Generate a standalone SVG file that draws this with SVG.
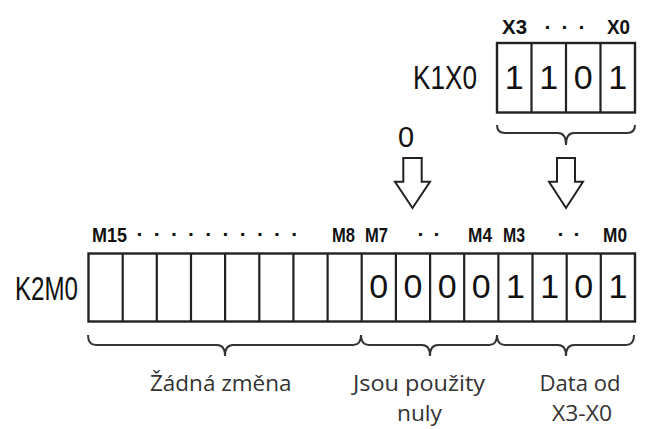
<svg xmlns="http://www.w3.org/2000/svg" width="645" height="429" viewBox="0 0 645 429">
<style>
.box{fill:#fff;stroke:#222;stroke-width:2.4}
.div{stroke:#222;stroke-width:2.2}
.g{font-family:"Liberation Sans",Arial,sans-serif;fill:#111}
.big{font-size:33px}
.dig{font-size:34px;text-anchor:middle}
.sm{font-size:21px;font-weight:bold}
.dot{font-size:21px;text-anchor:middle;font-weight:bold}
.cap{font-family:"Open Sans","Noto Sans",sans-serif;font-size:22px;fill:#333}
.brace{fill:none;stroke:#333;stroke-width:2}
.arrow{fill:#fff;stroke:#222;stroke-width:2;stroke-linejoin:miter}
</style>
<rect width="645" height="429" fill="#fff"/>

<g id="source-register">
  <text class="g big" x="413" y="89" textLength="64" lengthAdjust="spacingAndGlyphs">K1X0</text>
  <text class="g sm" x="502" y="33.5" textLength="25" lengthAdjust="spacingAndGlyphs">X3</text>
  <text class="g dot" x="548 565 582" y="33.5">···</text>
  <text class="g sm" x="607" y="33.5" textLength="23" lengthAdjust="spacingAndGlyphs">X0</text>
  <rect class="box" x="497" y="43" width="138" height="69.5"/>
  <path class="div" d="M531.5,43V112.5M566,43V112.5M600.5,43V112.5"/>
  <text class="g dig" x="514.25 548.75 583.25 617.75" y="89">1101</text>
</g>

<g id="zero-label">
  <text class="g" x="406" y="146.5" font-size="29" text-anchor="middle">0</text>
</g>

<g id="dest-register">
  <text class="g big" x="15" y="300" textLength="63" lengthAdjust="spacingAndGlyphs">K2M0</text>
  <text class="g sm" x="92" y="241.5" textLength="35" lengthAdjust="spacingAndGlyphs">M15</text>
  <text class="g dot" x="140 157.2 174.4 191.6 208.8 226 243.2 260.4 277.6 294.8" y="241">··········</text>
  <text class="g sm" x="332" y="241.5" textLength="23" lengthAdjust="spacingAndGlyphs">M8</text>
  <text class="g sm" x="365" y="241.5" textLength="23" lengthAdjust="spacingAndGlyphs">M7</text>
  <text class="g dot" x="421 437" y="241">··</text>
  <text class="g sm" x="468" y="241.5" textLength="24" lengthAdjust="spacingAndGlyphs">M4</text>
  <text class="g sm" x="503" y="241.5" textLength="22" lengthAdjust="spacingAndGlyphs">M3</text>
  <text class="g dot" x="561 577" y="241">··</text>
  <text class="g sm" x="603" y="241.5" textLength="24" lengthAdjust="spacingAndGlyphs">M0</text>
  <rect class="box" x="88.5" y="253.5" width="546.5" height="68"/>
  <path class="div" d="M122.7,253.5V321.5M156.8,253.5V321.5M191,253.5V321.5M225.1,253.5V321.5M259.3,253.5V321.5M293.4,253.5V321.5M327.6,253.5V321.5M361.7,253.5V321.5M395.9,253.5V321.5M430.1,253.5V321.5M464.2,253.5V321.5M498.4,253.5V321.5M532.5,253.5V321.5M566.7,253.5V321.5M600.8,253.5V321.5"/>
  <text class="g dig" x="378.8 413 447.1 481.3 515.5 549.6 583.8 617.9" y="298">00001101</text>
</g>

<g id="connectors">
  <path class="arrow" d="M403.3,158H421.7V181.7H430L412.5,208L395,181.7H403.3Z"/>
  <path class="arrow" d="M557,158H575V181.7H583L566,208L549,181.7H557Z"/>
  <path class="brace" d="M497,125Q497,133 505,133H558Q566,133 566,145Q566,133 574,133H627Q635,133 635,125"/>
</g>

<g id="braces">
  <path class="brace" d="M88,335Q88,345 96,345H217Q225,345 225,356Q225,345 233,345H353Q361,345 361,335"/>
  <path class="brace" d="M361,335Q361,345 369,345H422Q430,345 430,356Q430,345 438,345H489Q497,345 497,335"/>
  <path class="brace" d="M497,335Q497,345 505,345H558Q566,345 566,356Q566,345 574,345H626Q634,345 634,335"/>
</g>

<g id="captions">
  <text class="cap" x="150" y="391" textLength="141.5" lengthAdjust="spacingAndGlyphs">Žádná změna</text>
  <text class="cap" x="353" y="391" textLength="132" lengthAdjust="spacingAndGlyphs">Jsou použity</text>
  <text class="cap" x="397" y="421" textLength="45" lengthAdjust="spacingAndGlyphs">nuly</text>
  <text class="cap" x="539.5" y="391" textLength="81" lengthAdjust="spacingAndGlyphs">Data od</text>
  <text class="cap" x="552" y="421" textLength="60" lengthAdjust="spacingAndGlyphs">X3-X0</text>
</g>
</svg>
